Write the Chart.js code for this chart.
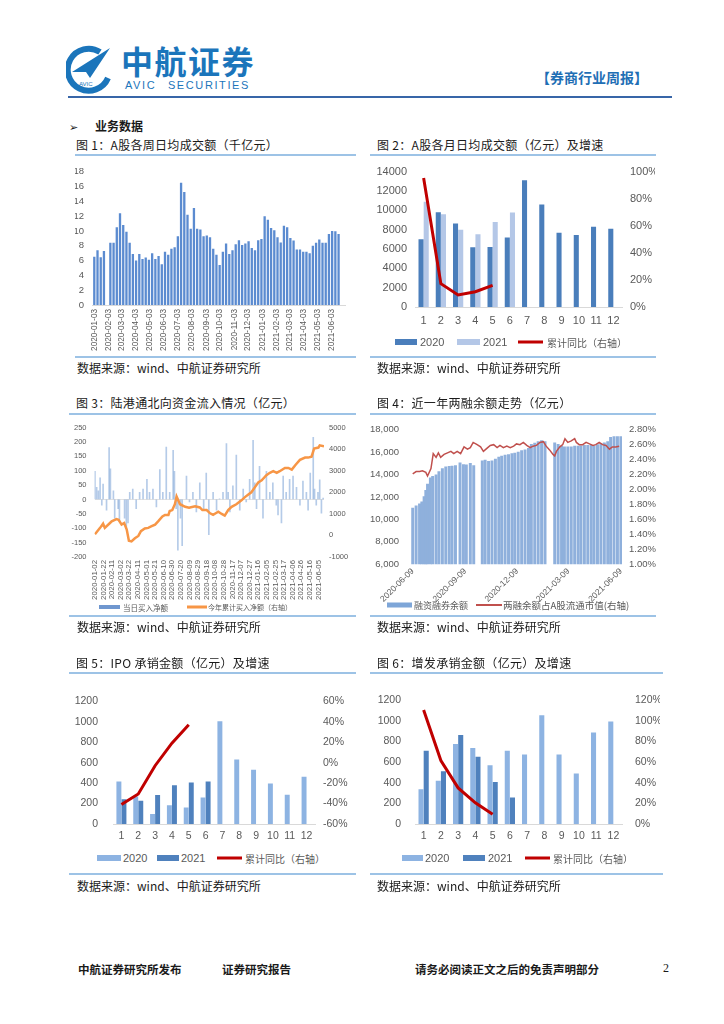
<!DOCTYPE html>
<html>
<head>
<meta charset="utf-8">
<script src="https://cdn.jsdelivr.net/npm/chart.js@4.4.0/dist/chart.umd.min.js"></script>
<style>
body{margin:0;background:#fff;width:724px;height:1024px;position:relative;overflow:hidden;font-family:"Noto Sans CJK SC",sans-serif;color:#1a1a1a;}
.a{position:absolute;white-space:nowrap;}
.m{position:absolute;transform:translateY(-50%);white-space:nowrap;}
canvas{position:absolute;}
.ttl{font-size:12px;letter-spacing:0.3px;line-height:16px;}
.hl{position:absolute;height:2px;background:#9dc3e6;}
.src{font-size:12px;line-height:16px;}
.num{font-family:"Liberation Sans",Arial,sans-serif;color:#595959;}
.cjk{font-family:"Noto Sans CJK SC",sans-serif;color:#595959;}
.foot{font-size:11.5px;font-weight:600;line-height:16px;}
</style>
</head>
<body>
<!-- header -->
<svg class="a" style="left:66px;top:45px" width="46" height="50" viewBox="0 0 46 50">
  <path d="M34 7 A21 21 0 1 0 42 33" stroke="#1b75bb" stroke-width="6" fill="none"/>
  <path d="M6 27 L44 3 L24 33 L20 27 Z" fill="#1b75bb"/>
  <text x="13" y="41" font-size="6" font-family="Liberation Sans" fill="#1b75bb">AVIC</text>
</svg>
<div class="a" style="left:121px;top:38px;font-size:32px;font-weight:700;color:#1b75bb;letter-spacing:1.5px;line-height:44px;">中航证券</div>
<div class="a" style="left:125px;top:79px;font-size:11px;color:#1b75bb;letter-spacing:1.6px;word-spacing:7px;font-family:'Liberation Sans',Arial,sans-serif;line-height:13px;">AVIC SECURITIES</div>
<div class="a" style="left:536px;top:67px;font-size:14px;font-weight:700;color:#1f6fb5;line-height:20px;">【券商行业周报】</div>
<div class="a" style="left:68px;top:96px;width:604px;height:2px;background:#3866a8;"></div>
<div class="a" style="left:69px;top:118px;font-size:11px;line-height:16px;">➢</div>
<div class="a" style="left:95px;top:118px;font-size:12px;font-weight:700;line-height:16px;">业务数据</div>

<!-- row 1 -->
<div class="a ttl" style="left:76px;top:137px;">图 1：A股各周日均成交额（千亿元）</div>
<div class="hl" style="left:75px;top:154px;width:281px;"></div>
<canvas id="c1" width="280" height="197" style="left:75px;top:158px;"></canvas>
<div class="hl" style="left:75px;top:356px;width:281px;"></div>
<div class="a src" style="left:77px;top:360px;">数据来源：wind、中航证券研究所</div>

<div class="a ttl" style="left:377px;top:137px;">图 2：A股各月日均成交额（亿元）及增速</div>
<div class="hl" style="left:370px;top:154px;width:286px;"></div>
<canvas id="c2" width="285" height="180" style="left:370px;top:157px;"></canvas>
<span class="m" style="left:395px;top:342px;width:22px;height:6px;background:#4a7ebb;"></span>
<span class="m num" style="left:420px;top:342px;font-size:11px;">2020</span>
<span class="m" style="left:457px;top:342px;width:23px;height:6px;background:#b4c7e7;"></span>
<span class="m num" style="left:483px;top:342px;font-size:11px;">2021</span>
<span class="m" style="left:518px;top:342px;width:25px;height:3px;background:#c00000;"></span>
<span class="m cjk" style="left:547px;top:342px;font-size:10px;">累计同比（右轴）</span>
<div class="hl" style="left:370px;top:356px;width:286px;"></div>
<div class="a src" style="left:377px;top:360px;">数据来源：wind、中航证券研究所</div>

<!-- row 2 -->
<div class="a ttl" style="left:76px;top:395px;">图 3：陆港通北向资金流入情况（亿元）</div>
<div class="hl" style="left:69px;top:413px;width:287px;"></div>
<canvas id="c3" width="289" height="190" style="left:68px;top:415px;"></canvas>
<span class="m" style="left:99px;top:607px;width:21px;height:4px;background:#6f97cf;"></span>
<span class="m cjk" style="left:123px;top:607px;font-size:7.5px;">当日买入净额</span>
<span class="m" style="left:187px;top:607px;width:20px;height:3px;background:#f79646;"></span>
<span class="m cjk" style="left:208px;top:607px;font-size:7px;">今年累计买入净额（右轴）</span>
<div class="hl" style="left:69px;top:615px;width:287px;"></div>
<div class="a src" style="left:77px;top:619px;">数据来源：wind、中航证券研究所</div>

<div class="a ttl" style="left:377px;top:395px;">图 4：近一年两融余额走势（亿元）</div>
<div class="hl" style="left:370px;top:413px;width:286px;"></div>
<canvas id="c4" width="292" height="190" style="left:365px;top:412px;"></canvas>
<span class="m" style="left:387px;top:605px;width:25px;height:5px;background:#7ea6d8;"></span>
<span class="m cjk" style="left:414px;top:605px;font-size:9px;">融资融券余额</span>
<span class="m" style="left:476px;top:605px;width:26px;height:2px;background:#c0504d;"></span>
<span class="m cjk" style="left:503px;top:605px;font-size:9.5px;">两融余额占A股流通市值(右轴)</span>
<div class="hl" style="left:370px;top:615px;width:286px;"></div>
<div class="a src" style="left:377px;top:619px;">数据来源：wind、中航证券研究所</div>

<!-- row 3 -->
<div class="a ttl" style="left:76px;top:655px;">图 5：IPO 承销金额（亿元）及增速</div>
<div class="hl" style="left:69px;top:672px;width:287px;"></div>
<canvas id="c5" width="280" height="166" style="left:75px;top:680px;"></canvas>
<span class="m" style="left:97px;top:858px;width:24px;height:6px;background:#8db3e2;"></span>
<span class="m num" style="left:123px;top:858px;font-size:11px;">2020</span>
<span class="m" style="left:157px;top:858px;width:22px;height:6px;background:#4f81bd;"></span>
<span class="m num" style="left:181px;top:858px;font-size:11px;">2021</span>
<span class="m" style="left:217px;top:858px;width:25px;height:3px;background:#c00000;"></span>
<span class="m cjk" style="left:245px;top:858px;font-size:10px;">累计同比（右轴）</span>
<div class="hl" style="left:69px;top:873px;width:287px;"></div>
<div class="a src" style="left:77px;top:878px;">数据来源：wind、中航证券研究所</div>

<div class="a ttl" style="left:377px;top:655px;">图 6：增发承销金额（亿元）及增速</div>
<div class="hl" style="left:370px;top:672px;width:293px;"></div>
<canvas id="c6" width="290" height="166" style="left:370px;top:680px;"></canvas>
<span class="m" style="left:402px;top:858px;width:21px;height:6px;background:#8db3e2;"></span>
<span class="m num" style="left:425px;top:858px;font-size:11px;">2020</span>
<span class="m" style="left:463px;top:858px;width:22px;height:6px;background:#4f81bd;"></span>
<span class="m num" style="left:488px;top:858px;font-size:11px;">2021</span>
<span class="m" style="left:525px;top:858px;width:25px;height:3px;background:#c00000;"></span>
<span class="m cjk" style="left:553px;top:858px;font-size:10px;">累计同比（右轴）</span>
<div class="hl" style="left:370px;top:873px;width:293px;"></div>
<div class="a src" style="left:377px;top:878px;">数据来源：wind、中航证券研究所</div>

<!-- footer -->
<div class="a foot" style="left:78px;top:961px;">中航证券研究所发布</div>
<div class="a foot" style="left:222px;top:961px;">证券研究报告</div>
<div class="a foot" style="left:415px;top:961px;">请务必阅读正文之后的免责声明部分</div>
<div class="a" style="left:663px;top:960px;font-size:12px;font-family:'Liberation Serif',serif;line-height:16px;">2</div>

<script>
// ---- chart 1: weekly average daily turnover (thousand 亿元), weeks from 2020-01-03
const weeklyTurnover = [6.5,7.4,6.45,7.3,null,8.4,8.4,10.5,12.4,10.8,9.9,8.4,6.9,6.0,6.9,6.2,6.4,6.1,7.0,6.2,
  6.6,5.5,7.2,6.8,7.6,7.8,9.3,16.5,15.25,12.2,10.3,13.1,10.3,10.2,9.3,9.4,9.15,7.6,6.8,5.4,
  7.2,8.3,6.9,7.4,8.2,8.75,8.1,8.3,8.6,7.7,7.4,8.75,8.9,12.0,11.5,10.4,10.1,9.15,8.45,10.7,
  10.5,9.06,8.7,7.5,7.5,7.2,7.2,7.0,8.0,8.4,8.85,8.4,8.4,9.6,10.0,9.95,9.6];
const weekTickLabels = ['2020-01-03','2020-02-03','2020-03-03','2020-04-03','2020-05-03','2020-06-03',
  '2020-07-03','2020-08-03','2020-09-03','2020-10-03','2020-11-03','2020-12-03','2021-01-03',
  '2021-02-03','2021-03-03','2021-04-03','2021-05-03','2021-06-03'];

// ---- chart 2: monthly average daily turnover (亿元)
const months = ['1','2','3','4','5','6','7','8','9','10','11','12'];
const turnover2020 = [7000,9800,8630,6190,6200,7180,13110,10600,7680,7440,8300,8100];
const turnover2021 = [10870,9590,8000,7510,8800,9780];
const turnoverYoY = [95.3,17.2,8.9,11.3,16.0];

// ---- chart 3: northbound flows, day offsets from 2020-01-02
const northTickLabels = ['2020-01-02','2020-01-22','2020-02-11','2020-03-02','2020-03-22','2020-04-11',
  '2020-05-01','2020-05-21','2020-06-10','2020-06-30','2020-07-20','2020-08-09','2020-08-29',
  '2020-09-18','2020-10-08','2020-10-28','2020-11-17','2020-12-07','2020-12-27','2021-01-16',
  '2021-02-05','2021-02-25','2021-03-17','2021-04-06','2021-04-26','2021-05-16','2021-06-05'];
const northBarDay = [0,4,8,12,16,19,27,33,36,43,46,54,57,69,73,77,81,88,96,104,112,121,127,135,143,151,158,166,174,182,
  185,189,193,199,203,213,220,228,236,244,253,259,265,275,283,290,298,306,310,314,321,329,337,345,352,360,368,372,376,383,
  391,399,407,414,422,426,434,438,445,453,461,469,477,484,492,496,501,508,511,515,519,523,527,531];
const northBarNet = [98,42,30,75,-20,53,-37,180,106,30,-65,-32,-77,-65,-100,-82,25,36,-32,25,36,70,25,36,-26,104,25,182,25,171,
  98,-32,-176,-65,-161,81,-9,25,-43,58,-32,92,-122,25,-37,2,25,194,25,-43,47,154,-37,36,-9,70,205,58,-32,115,
  -65,98,25,58,-20,-54,-82,81,25,70,81,42,-20,64,25,-37,92,216,36,-20,25,68,-48,5];
const northCumDay = [0,12,19,23,35,39,50,55,62,68,74,79,85,93,101,107,116,124,132,140,147,157,163,171,174,180,186,190,198,210,
  219,233,244,250,260,268,275,281,287,295,302,310,318,329,341,349,357,364,372,380,388,399,407,415,423,430,442,450,458,467,
  477,489,496,504,510,520,523,533];
const northCum = [50,350,545,350,575,650,755,720,500,575,275,-250,-280,-130,-25,200,320,350,425,500,650,875,950,950,1130,1175,1445,1805,1445,1325,
  1280,1355,1295,1175,1175,1025,950,1025,1100,995,920,1175,1325,1445,1625,1775,1895,2000,2225,2450,2555,2795,2900,2975,2900,2975,3125,3125,3050,3275,
  3500,3605,3605,3650,4025,4070,4175,4130];

// ---- chart 4: margin balance, day offsets from 2020-06-09
const marginTickLabels = ['2020-06-09','2020-09-09','2020-12-09','2021-03-09','2021-06-09'];
const marginBarDay = [0,6,12,16,20,23,26,31,35,41,46,52,58,64,69,75,83,89,94,101,107,122,127,133,139,145,151,156,162,168,
  174,179,185,191,197,203,208,214,220,226,232,249,255,261,266,272,278,284,290,295,301,307,313,318,324,330,336,342,347,353,359,365];
const marginBalance = [11020,11210,11400,11570,12040,12600,13150,13700,13840,13980,14260,14540,14680,14730,14760,14810,15040,14900,14870,15010,
  14810,15230,15290,15175,15230,15370,15560,15650,15730,15790,15870,15920,16000,16140,16200,16340,16700,16810,16950,17030,
  16950,16840,16700,16530,16480,16480,16480,16530,16530,16560,16610,16610,16610,16560,16670,16750,16840,16950,17310,17390,17390,17390];
const ratioDay = [0,6,12,17,23,26,32,36,41,45,49,55,61,67,72,78,84,90,96,101,106,113,119,124,130,136,142,148,153,159,
  165,171,177,182,188,194,200,206,211,217,223,229,234,240,246,249,252,258,263,267,272,278,284,287,292,298,304,310,316,321,
  327,333,339,345,350,356,362];
const marginRatio = [2.21,2.24,2.24,2.25,2.23,2.18,2.28,2.48,2.43,2.49,2.43,2.47,2.49,2.51,2.48,2.51,2.48,2.57,2.54,2.56,
  2.63,2.60,2.57,2.51,2.55,2.59,2.60,2.56,2.59,2.56,2.58,2.56,2.58,2.61,2.60,2.63,2.59,2.56,2.58,2.59,
  2.63,2.64,2.58,2.53,2.47,2.45,2.51,2.57,2.60,2.68,2.63,2.65,2.68,2.63,2.60,2.60,2.63,2.61,2.59,2.60,
  2.63,2.60,2.59,2.54,2.57,2.57,2.58];

// ---- chart 5: IPO underwriting (亿元)
const ipo2020 = [415,270,97,184,161,258,1004,632,530,395,287,462];
const ipo2021 = [243,228,284,380,407,415];
const ipoYoY = [-41,-30.7,-3,19,37];

// ---- chart 6: follow-on offering underwriting (亿元)
const seo2020 = [337,419,776,737,571,711,673,1054,673,489,887,995];
const seo2021 = [711,512,863,653,407,258];
const seoYoY = [110.6,61.5,35,20.5,9.4];

Chart.defaults.animation = false;
Chart.defaults.responsive = false;
Chart.defaults.plugins.legend.display = false;
Chart.defaults.plugins.tooltip.enabled = false;
Chart.defaults.color = '#595959';
Chart.defaults.font.family = '"Liberation Sans", Arial, sans-serif';

function dayDiff(a, b){ return Math.round((new Date(b) - new Date(a)) / 86400000); }
function fixWidth(w){ return s => { s.width = w; }; }
function fixHeight(h){ return s => { s.height = h; }; }
function setTicks(vals){ return s => { s.ticks = vals.map(v => ({value: v})); }; }
const noGrid = { display:false, drawTicks:false };
const baseLine = { display:true, color:'#d9d9d9', width:1 };
const pts = (xs, ys) => xs.map((x, i) => ({x: x, y: ys[i]}));
const plain = v => String(v);

// chart 1
new Chart(document.getElementById('c1'), {
  type: 'bar',
  data: { datasets: [{ data: weeklyTurnover.map((v, i) => ({x: i*7, y: v})), backgroundColor: '#5b8bd0', barPercentage: 0.72, categoryPercentage: 1 }] },
  options: {
    layout: { padding: { top: 9, right: 10 } },
    scales: {
      x: { type:'linear', min:-5, max:546, offset:false, grid:noGrid, border:baseLine, afterFit:fixHeight(50),
        afterBuildTicks: setTicks(weekTickLabels.map(d => dayDiff(weekTickLabels[0], d))),
        ticks: { autoSkip:false, maxRotation:90, minRotation:90, padding:4, font:{size:8.2}, callback:(v, i) => weekTickLabels[i] } },
      y: { min:0, max:18, ticks:{ stepSize:2, padding:8, font:{size:9.5} }, grid:noGrid, border:{display:false}, afterFit:fixWidth(17) }
    }
  }
});

// monthly bar + line combo (charts 2, 5, 6)
function monthlyCombo(id, s20, s21, yoy, c20, c21, opt){
  new Chart(document.getElementById(id), {
    type: 'bar',
    data: {
      labels: months,
      datasets: [
        { type:'line', data: yoy, yAxisID:'y1', borderColor:'#c00000', borderWidth:3, pointRadius:0, tension:0 },
        { data: s20, backgroundColor: c20, barPercentage: 0.98, categoryPercentage: opt.cat },
        { data: s21, backgroundColor: c21, barPercentage: 0.98, categoryPercentage: opt.cat }
      ]
    },
    options: {
      layout: { padding: { top: opt.top } },
      scales: {
        x: { grid:noGrid, border:baseLine, afterFit:fixHeight(opt.xh),
          ticks:{ autoSkip:false, maxRotation:0, minRotation:0, padding:opt.xpad, font:{size:opt.fs} } },
        y: { min:0, max:opt.ymax, ticks:{ stepSize:opt.ystep, padding:opt.lpad, font:{size:opt.fs}, callback: plain },
          grid:noGrid, border:{display:false}, afterFit:fixWidth(opt.lw) },
        y1: { position:'right', min:opt.rmin, max:opt.rmax, ticks:{ stepSize:opt.rstep, padding:opt.rpad, font:{size:opt.fs}, callback: v => Math.round(v) + '%' },
          grid:noGrid, border:{display:false}, afterFit:fixWidth(opt.rw) }
      }
    }
  });
}

monthlyCombo('c2', turnover2020, turnover2021, turnoverYoY, '#4a7ebb', '#b4c7e7',
  { cat:0.6, top:8, xh:30, xpad:7, fs:11, ymax:14000, ystep:2000, lpad:8, lw:45, rmin:0, rmax:100, rstep:20, rpad:8, rw:33 });
monthlyCombo('c5', ipo2020, ipo2021, ipoYoY, '#8db3e2', '#4f81bd',
  { cat:0.6, top:7, xh:22, xpad:6, fs:10.5, ymax:1200, ystep:200, lpad:15, lw:38, rmin:-60, rmax:60, rstep:20, rpad:8, rw:40 });
monthlyCombo('c6', seo2020, seo2021, seoYoY, '#8db3e2', '#4f81bd',
  { cat:0.6, top:7, xh:22, xpad:6, fs:10.5, ymax:1200, ystep:200, lpad:14, lw:45, rmin:0, rmax:120, rstep:20, rpad:13, rw:38 });

// chart 3
new Chart(document.getElementById('c3'), {
  type: 'bar',
  data: { datasets: [
    { type:'line', data: pts(northCumDay, northCum), yAxisID:'y1', borderColor:'#f79646', borderWidth:2.5, pointRadius:0, tension:0 },
    { data: pts(northBarDay, northBarNet), backgroundColor:'rgba(91,140,205,0.45)', barThickness:1 }
  ] },
  options: {
    layout: { padding: { top: 8 } },
    scales: {
      x: { type:'linear', min:-1, max:533, offset:false, grid:noGrid, border:{display:false}, afterFit:fixHeight(48),
        afterBuildTicks: setTicks(northTickLabels.map(d => dayDiff(northTickLabels[0], d))),
        ticks: { autoSkip:false, maxRotation:90, minRotation:90, padding:3, font:{size:7.8}, callback:(v, i) => northTickLabels[i] } },
      y: { min:-200, max:250, ticks:{ stepSize:50, padding:8, font:{size:7.5} },
        grid:{ drawTicks:false, color: c => c.tick.value === 0 ? '#e3e3e3' : 'rgba(0,0,0,0)' }, border:{display:false}, afterFit:fixWidth(26.5) },
      y1: { position:'right', min:-1000, max:5000, ticks:{ stepSize:1000, padding:5, font:{size:7.5}, callback: plain },
        grid:noGrid, border:{display:false}, afterFit:fixWidth(33) }
    }
  }
});

// chart 4
new Chart(document.getElementById('c4'), {
  type: 'bar',
  data: { datasets: [
    { type:'line', data: pts(ratioDay, marginRatio), yAxisID:'y1', borderColor:'#c0504d', borderWidth:1.5, pointRadius:0, tension:0 },
    { data: pts(marginBarDay, marginBalance), backgroundColor:'#8fb0dc', barThickness:2.3 }
  ] },
  options: {
    layout: { padding: { top: 8 } },
    scales: {
      x: { type:'linear', min:-3, max:367, offset:false, grid:noGrid, border:{display:false}, afterFit:fixHeight(37.7),
        afterBuildTicks: setTicks(marginTickLabels.map(d => dayDiff(marginTickLabels[0], d))),
        ticks: { autoSkip:false, maxRotation:45, minRotation:45, padding:2, font:{size:8.5}, callback:(v, i) => marginTickLabels[i] } },
      y: { min:6000, max:18000, ticks:{ stepSize:2000, padding:12, font:{size:9.5}, callback: v => v.toLocaleString('en-US') },
        grid:noGrid, border:{display:false}, afterFit:fixWidth(46) },
      y1: { position:'right', min:1.0, max:2.8, ticks:{ stepSize:0.2, padding:7, font:{size:9.5}, callback: v => v.toFixed(2) + '%' },
        grid:noGrid, border:{display:false}, afterFit:fixWidth(35) }
    }
  }
});
</script>
</body>
</html>
